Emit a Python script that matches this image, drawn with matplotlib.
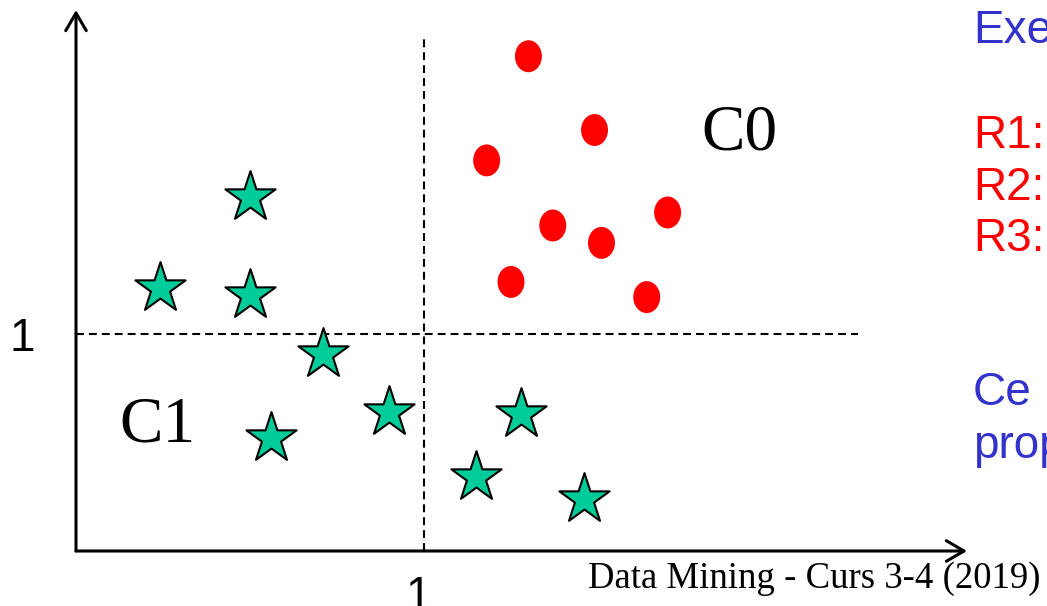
import matplotlib
matplotlib.use("Agg")
import matplotlib.pyplot as plt
from matplotlib.path import Path
from matplotlib.transforms import Affine2D

# ---- data (in axis units, threshold at 1) ----
star_x = [0.50, 0.24, 0.50, 0.71, 0.90, 0.56, 1.28, 1.15, 1.46]
star_y = [1.63, 1.21, 1.18, 0.91, 0.64, 0.52, 0.63, 0.34, 0.24]
circ_x = [1.30, 1.49, 1.18, 1.37, 1.70, 1.51, 1.25, 1.64]
circ_y = [2.28, 1.94, 1.80, 1.50, 1.56, 1.42, 1.24, 1.17]
threshold_x = 1
threshold_y = 1
cluster_labels = ["C0", "C1"]
tick_labels = ["1", "1"]
right_texts = ["Exe", "R1:", "R2:", "R3:", "Ce", "prop"]
footer = "Data Mining - Curs 3-4 (2019)"

W, H = 1047, 606
fig = plt.figure(figsize=(W / 100, H / 100), dpi=100)
ax = fig.add_axes([0, 0, 1, 1])
ax.set_xlim(-76 / 348, (W - 76) / 348)
ax.set_ylim((551 - H) / 217, 551 / 217)
ax.axis("off")

def fx(px):
    return px / W

def fy(py):
    return 1 - py / H

# axes arrows
arrow_style = "->,head_length=12.7,head_width=7.4"
ax.annotate("", xy=(0, (551 - 10) / 217), xytext=(0, 0),
            arrowprops=dict(arrowstyle=arrow_style, lw=2.2, color="black",
                            shrinkA=0, shrinkB=0, mutation_scale=1))
ax.annotate("", xy=((967 - 76) / 348, 0), xytext=(0, 0),
            arrowprops=dict(arrowstyle=arrow_style, lw=2.2, color="black",
                            shrinkA=0, shrinkB=0, mutation_scale=1))

# dashed threshold lines
ax.plot([0, (858 - 76) / 348], [threshold_y, threshold_y], color="black",
        lw=1.5, dashes=(3.8, 2.4), zorder=1)
ax.plot([threshold_x, threshold_x], [0, (551 - 38) / 217], color="black",
        lw=1.5, dashes=(3.8, 2.4), zorder=1)

# ellipse marker for circles
ell = Path.unit_circle().transformed(Affine2D().scale(27 / 32, 1))
ax.scatter(circ_x, circ_y, marker=ell, s=23 ** 2, color="#FF0000",
           edgecolors="none", zorder=3)
ax.scatter(star_x, star_y, marker="*", s=38 ** 2, color="#00CC99",
           edgecolors="black", linewidths=1.5, zorder=3)

serif = ["Liberation Serif", "DejaVu Serif"]
sans = ["Liberation Sans", "DejaVu Sans"]

fig.text(fx(739), fy(150), cluster_labels[0], family=serif, fontsize=47,
         ha="center", va="baseline")
fig.text(fx(157), fy(442), cluster_labels[1], family=serif, fontsize=47,
         ha="center", va="baseline")

fig.text(fx(22), fy(351), tick_labels[0], family=sans, fontsize=33,
         ha="center", va="baseline")
fig.text(fx(418), fy(609), tick_labels[1], family=sans, fontsize=33,
         ha="center", va="baseline")

blue = "#3333CC"
red = "#FF0000"
right_pos = [(43, blue), (148, red), (200, red), (251, red), (405, blue), (458, blue)]
for t, (base, col) in zip(right_texts, right_pos):
    fig.text(fx(973), fy(base), t, family=sans, fontsize=33, color=col,
             ha="left", va="baseline")

fig.text(fx(588), fy(588), footer, family=serif, fontsize=26.5,
         ha="left", va="baseline")

fig.savefig("out.png", dpi=100)
